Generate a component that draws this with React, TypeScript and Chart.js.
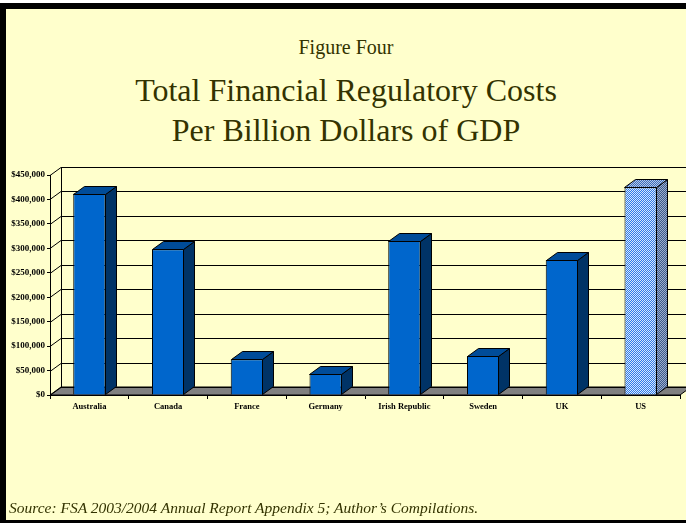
import React, { useEffect, useRef } from 'react';
import { Chart, registerables } from 'chart.js';

Chart.register(...registerables);

const categories = ['Australia', 'Canada', 'France', 'Germany', 'Irish Republic', 'Sweden', 'UK', 'US'];
const costs = [412000, 298000, 73000, 43000, 315000, 80000, 276000, 425000];
const yMin = 0;
const yMax = 450000;
const yStep = 50000;
const highlighted = 'US';
const titleLines = ['Figure Four', 'Total Financial Regulatory Costs', 'Per Billion Dollars of GDP'];
const sourceText = 'Source: FSA 2003/2004 Annual Report Appendix 5; Author\u2019s Compilations.';

const W = 686;
const H = 523;
const DX = 11;
const DY = 8;
const SERIF = '"Liberation Serif", "Times New Roman", serif';

function makePattern(ctx: CanvasRenderingContext2D, c1: string, c2: string) {
  const cv = document.createElement('canvas');
  cv.width = 2;
  cv.height = 2;
  const x = cv.getContext('2d')!;
  x.fillStyle = c1;
  x.fillRect(0, 0, 2, 2);
  x.fillStyle = c2;
  x.fillRect(0, 0, 1, 1);
  x.fillRect(1, 1, 1, 1);
  return ctx.createPattern(cv, 'repeat')!;
}

export default function App() {
  const ref = useRef<HTMLCanvasElement | null>(null);

  useEffect(() => {
    const canvas = ref.current!;
    const ctx = canvas.getContext('2d')!;
    const frontPat = makePattern(ctx, '#2F7BE8', '#D8E8FF');
    const sidePat = makePattern(ctx, '#3E5A8A', '#9AAECF');
    const topPat = makePattern(ctx, '#3C6CB8', '#B4CAEC');

    const isHi = (i: number) => categories[i] === highlighted;
    const frontColors = categories.map((_, i) => (isHi(i) ? frontPat : '#0066CC'));
    const sideColors = categories.map((_, i) => (isHi(i) ? sidePat : '#003366'));
    const topColors = categories.map((_, i) => (isHi(i) ? topPat : '#004C99'));

    const threeD = {
      id: 'threeD',
      beforeDatasetsDraw(chart: any) {
        const c = chart.ctx as CanvasRenderingContext2D;
        const { left, right, top, bottom } = chart.chartArea;
        const ys = chart.scales.y;
        c.save();
        // floor
        c.fillStyle = '#808080';
        c.beginPath();
        c.moveTo(left, bottom);
        c.lineTo(left + DX, bottom - DY);
        c.lineTo(right + DX, bottom - DY);
        c.lineTo(right, bottom);
        c.closePath();
        c.fill();
        c.strokeStyle = '#000';
        c.lineWidth = 1;
        c.stroke();
        // wall gridlines
        ys.ticks.forEach((t: any) => {
          const py = Math.round(ys.getPixelForValue(t.value)) + 0.5;
          c.beginPath();
          c.moveTo(left, py);
          c.lineTo(left + DX, py - DY);
          c.lineTo(chart.width + 20, py - DY);
          c.stroke();
        });
        // back wall left edge
        c.beginPath();
        c.moveTo(left + DX + 0.5, top - DY);
        c.lineTo(left + DX + 0.5, bottom - DY);
        c.stroke();
        c.restore();
      },
      afterDatasetsDraw(chart: any) {
        const c = chart.ctx as CanvasRenderingContext2D;
        const meta = chart.getDatasetMeta(0);
        c.save();
        c.strokeStyle = '#000';
        c.lineWidth = 1;
        c.lineJoin = 'round';
        meta.data.forEach((bar: any, i: number) => {
          const { x, y, base, width } = bar.getProps(['x', 'y', 'base', 'width'], true);
          const l = Math.round(x - width / 2) + 0.5;
          const r = Math.round(x + width / 2) - 0.5;
          const t = Math.round(y) + 0.5;
          const b = Math.round(base) - 0.5;
          // side
          c.fillStyle = sideColors[i] as any;
          c.beginPath();
          c.moveTo(r, t);
          c.lineTo(r + DX, t - DY);
          c.lineTo(r + DX, b - DY);
          c.lineTo(r, b);
          c.closePath();
          c.fill();
          c.stroke();
          // top
          c.fillStyle = topColors[i] as any;
          c.beginPath();
          c.moveTo(l, t);
          c.lineTo(l + DX, t - DY);
          c.lineTo(r + DX, t - DY);
          c.lineTo(r, t);
          c.closePath();
          c.fill();
          c.stroke();
        });
        c.restore();
      },
    };

    const chart = new Chart(canvas, {
      type: 'bar',
      data: {
        labels: categories,
        datasets: [
          {
            data: costs,
            backgroundColor: frontColors as any,
            borderColor: '#000',
            borderWidth: 1,
            categoryPercentage: 1,
            barPercentage: 0.41,
          },
        ],
      },
      options: {
        responsive: false,
        maintainAspectRatio: false,
        animation: false,
        devicePixelRatio: 1,
        layout: { padding: { top: 175, right: 6, left: 0, bottom: 0 } },
        plugins: {
          legend: { display: false },
          tooltip: { enabled: false },
          title: { display: false },
        },
        scales: {
          x: {
            offset: true,
            afterFit: (s: any) => {
              s.height = 128;
            },
            grid: {
              display: true,
              drawOnChartArea: false,
              drawTicks: true,
              tickLength: 4,
              color: '#000',
              offset: true,
            },
            border: { display: true, color: '#000', width: 1 },
            ticks: {
              color: '#000',
              padding: 3,
              maxRotation: 0,
              autoSkip: false,
              font: { family: SERIF, size: 8.5, weight: 'bold' },
            },
          },
          y: {
            min: yMin,
            max: yMax,
            afterFit: (s: any) => {
              s.width = 50;
            },
            grid: {
              display: true,
              drawOnChartArea: false,
              drawTicks: true,
              tickLength: 3,
              color: '#000',
            },
            border: { display: true, color: '#000', width: 1 },
            ticks: {
              stepSize: yStep,
              color: '#000',
              padding: 2,
              font: { family: SERIF, size: 9, weight: 'bold' },
              callback: (v: any) => '$' + Number(v).toLocaleString('en-US'),
            },
          },
        },
      },
      plugins: [threeD],
    });
    return () => chart.destroy();
  }, []);

  const titleStyle = (top: number, size: number): React.CSSProperties => ({
    position: 'absolute',
    left: 6,
    width: 680,
    top,
    textAlign: 'center',
    fontFamily: SERIF,
    fontSize: size,
    lineHeight: `${Math.round(size * 1.15)}px`,
    color: '#333300',
    whiteSpace: 'nowrap',
  });

  return (
    <div style={{ position: 'fixed', left: 0, top: 0, width: W, height: H, background: '#fff', overflow: 'hidden' }}>
      <div
        style={{
          position: 'absolute',
          left: 0,
          top: 3,
          width: W,
          height: H - 3,
          boxSizing: 'border-box',
          borderTop: '6px solid #000',
          borderLeft: '6px solid #000',
          borderBottom: '3px solid #000',
          background: '#FFFFCC',
        }}
      />
      <div style={titleStyle(48 - 12, 20)}>{titleLines[0]}</div>
      <div style={titleStyle(90 - 18, 32)}>{titleLines[1]}</div>
      <div style={titleStyle(130 - 18, 32)}>{titleLines[2]}</div>
      <canvas ref={ref} width={W} height={H} style={{ position: 'absolute', left: 0, top: 0, width: W, height: H }} />
      <div
        style={{
          position: 'absolute',
          left: 9,
          top: 499,
          fontFamily: SERIF,
          fontStyle: 'italic',
          fontSize: 15.5,
          lineHeight: '18px',
          color: '#333300',
          whiteSpace: 'nowrap',
        }}
      >
        {sourceText}
      </div>
    </div>
  );
}
